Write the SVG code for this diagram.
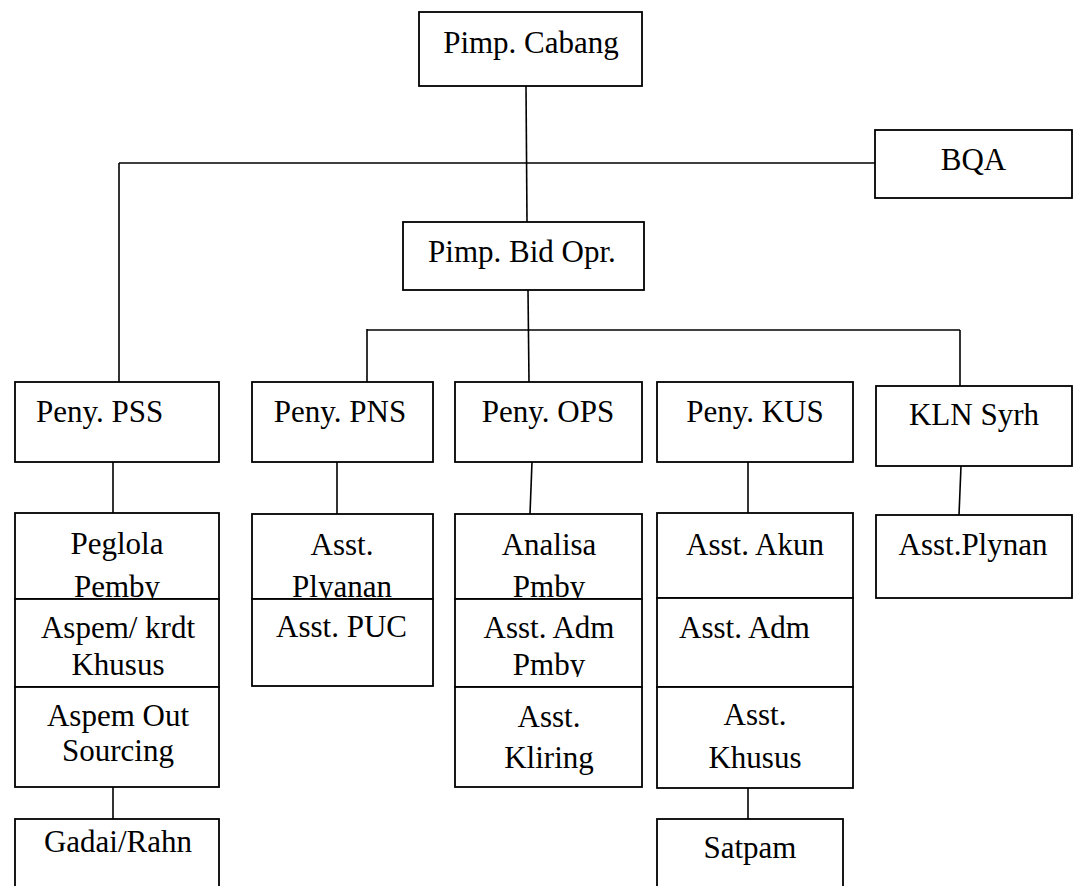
<svg xmlns="http://www.w3.org/2000/svg" width="1080" height="886" viewBox="0 0 1080 886">
<style>
.b{fill:#fff;stroke:#000;stroke-width:1.8}
.c line{stroke:#000;stroke-width:1.6}
text{font-family:"Liberation Serif","Times New Roman",serif;font-size:31px;fill:#000;text-anchor:middle}
.l{text-anchor:start}
</style>
<defs>
<clipPath id="clipPmby2"><rect x="455" y="599" width="187" height="78"/></clipPath>
</defs>
<rect width="1080" height="886" fill="#fff"/>
<g id="connectors" class="c">
<line x1="526" y1="86" x2="527" y2="222"/>
<line x1="119" y1="163" x2="875" y2="163"/>
<line x1="119" y1="163" x2="119" y2="382"/>
<line x1="528" y1="290" x2="529" y2="382"/>
<line x1="367" y1="330" x2="960" y2="330"/>
<line x1="367" y1="329" x2="367" y2="382"/>
<line x1="960" y1="330" x2="960" y2="386"/>
<line x1="113" y1="462" x2="113" y2="513"/>
<line x1="113" y1="787" x2="113" y2="819"/>
<line x1="337" y1="462" x2="337" y2="514"/>
<line x1="532" y1="462" x2="530" y2="514"/>
<line x1="748" y1="462" x2="748" y2="513"/>
<line x1="748" y1="788" x2="748" y2="819"/>
<line x1="961" y1="466" x2="959" y2="515"/>
</g>
<g id="pimp-cabang"><rect class="b" x="419" y="12" width="223" height="74"/><text x="531" y="53">Pimp. Cabang</text></g>
<g id="bqa"><rect class="b" x="875" y="130" width="197" height="68"/><text x="973.5" y="170">BQA</text></g>
<g id="pimp-bid-opr"><rect class="b" x="403" y="222" width="241" height="68"/><text x="522" y="262">Pimp. Bid Opr.</text></g>
<g id="peny-pss"><rect class="b" x="15" y="382" width="204" height="80"/><text class="l" x="36" y="422">Peny. PSS</text></g>
<g id="peny-pns"><rect class="b" x="252" y="382" width="181" height="80"/><text x="340" y="422">Peny. PNS</text></g>
<g id="peny-ops"><rect class="b" x="455" y="382" width="187" height="80"/><text x="548" y="422">Peny. OPS</text></g>
<g id="peny-kus"><rect class="b" x="657" y="382" width="196" height="80"/><text x="755" y="422">Peny. KUS</text></g>
<g id="kln-syrh"><rect class="b" x="876" y="386" width="196" height="80"/><text x="974" y="425">KLN Syrh</text></g>
<g id="peglola-pemby"><rect class="b" x="15" y="513" width="204" height="86"/><text x="117" y="554">Peglola</text><text x="117" y="597">Pemby</text></g>
<g id="aspem-krdt-khusus"><rect class="b" x="15" y="599" width="204" height="88"/><text x="118" y="638">Aspem/ krdt</text><text x="118" y="675">Khusus</text></g>
<g id="aspem-out-sourcing"><rect class="b" x="15" y="687" width="204" height="100"/><text x="118" y="726">Aspem Out</text><text x="118" y="761">Sourcing</text></g>
<g id="gadai-rahn"><rect class="b" x="15" y="819" width="204" height="90"/><text x="118" y="852">Gadai/Rahn</text></g>
<g id="asst-plyanan"><rect class="b" x="252" y="514" width="181" height="85"/><text x="342" y="555">Asst.</text><text x="342" y="597">Plyanan</text></g>
<g id="asst-puc"><rect class="b" x="252" y="599" width="181" height="87"/><text x="341.5" y="637">Asst. PUC</text></g>
<g id="analisa-pmby"><rect class="b" x="455" y="514" width="187" height="85"/><text x="549" y="555">Analisa</text><text x="549" y="597">Pmby</text></g>
<g id="asst-adm-pmby"><rect class="b" x="455" y="599" width="187" height="88"/><text x="549" y="638">Asst. Adm</text><text x="549" y="675" clip-path="url(#clipPmby2)">Pmby</text></g>
<g id="asst-kliring"><rect class="b" x="455" y="687" width="187" height="100"/><text x="549" y="727">Asst.</text><text x="549" y="768">Kliring</text></g>
<g id="asst-akun"><rect class="b" x="657" y="513" width="196" height="85"/><text x="755" y="555">Asst. Akun</text></g>
<g id="asst-adm"><rect class="b" x="657" y="598" width="196" height="89"/><text class="l" x="679" y="638">Asst. Adm</text></g>
<g id="asst-khusus"><rect class="b" x="657" y="687" width="196" height="101"/><text x="755" y="725">Asst.</text><text x="755" y="768">Khusus</text></g>
<g id="satpam"><rect class="b" x="657" y="819" width="186" height="90"/><text x="750" y="858">Satpam</text></g>
<g id="asst-plynan"><rect class="b" x="876" y="515" width="196" height="83"/><text x="973" y="555">Asst.Plynan</text></g>
</svg>
